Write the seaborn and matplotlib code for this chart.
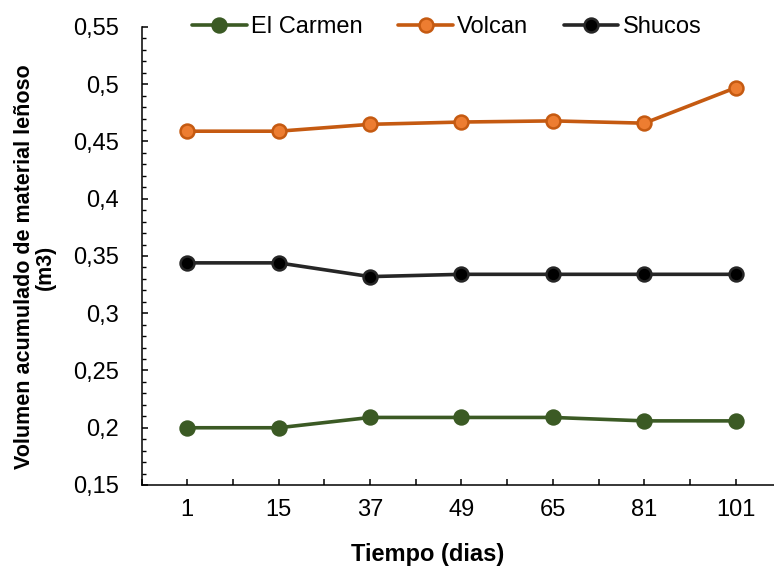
import matplotlib
matplotlib.use("Agg")
import matplotlib.pyplot as plt
from matplotlib.ticker import FuncFormatter, FixedLocator, MultipleLocator
import numpy as np
import pandas as pd
import seaborn as sns

dias = ["1", "15", "37", "49", "65", "81", "101"]
el_carmen = [0.200, 0.200, 0.209, 0.209, 0.209, 0.206, 0.206]
volcan = [0.459, 0.459, 0.465, 0.467, 0.468, 0.466, 0.497]
shucos = [0.344, 0.344, 0.332, 0.334, 0.334, 0.334, 0.334]

series_names = ["El Carmen", "Volcan", "Shucos"]
series_values = [el_carmen, volcan, shucos]
line_colors = ["#3B5A24", "#C55A11", "#262626"]
face_colors = ["#3B5A24", "#ED7D31", "#000000"]

sns.set_theme(style="white")
plt.rcParams["font.family"] = ["Liberation Sans", "DejaVu Sans"]

fig = plt.figure(figsize=(7.74, 5.70), dpi=100)
ax = fig.add_axes([141.5 / 774, 85 / 570, 640 / 774, 458 / 570])

pos = np.arange(len(dias))
for name, vals, lc, fc in zip(series_names, series_values, line_colors, face_colors):
    df = pd.DataFrame({"x": pos, "y": vals})
    sns.lineplot(data=df, x="x", y="y", ax=ax, color=lc, linewidth=2.6,
                 marker="o", markersize=10, markerfacecolor=fc,
                 markeredgecolor=lc, markeredgewidth=1.8, label=name)

ax.set_xlim(-0.5, len(dias) - 0.5)
ax.set_ylim(0.15, 0.55)
ax.set_xticks(pos)
ax.set_xticklabels(dias)
ax.xaxis.set_minor_locator(FixedLocator(np.arange(-0.5, len(dias), 1.0)))
ax.yaxis.set_major_locator(MultipleLocator(0.05))
ax.yaxis.set_minor_locator(MultipleLocator(0.01))

def fmt(v, p):
    s = f"{v:.2f}".rstrip("0")
    if s.endswith("."):
        s = s[:-1]
    return s.replace(".", ",")

ax.yaxis.set_major_formatter(FuncFormatter(fmt))

for s in ["top", "right"]:
    ax.spines[s].set_visible(False)
for s in ["left", "bottom"]:
    ax.spines[s].set_color("black")
    ax.spines[s].set_linewidth(1.1)

ax.tick_params(axis="both", which="major", direction="in", length=4.2, width=1.1,
               color="black", labelsize=17, labelcolor="black", left=True, bottom=True)
ax.tick_params(axis="y", which="major", pad=16)
ax.tick_params(axis="x", which="major", pad=10)
ax.tick_params(axis="y", which="minor", direction="in", length=3.2, width=1.0,
               color="black", left=True)
ax.tick_params(axis="x", which="minor", direction="in", length=4.2, width=1.1,
               color="black", bottom=True)

ax.set_xlabel("Tiempo (dias)", fontsize=17, fontweight="bold", color="black",
              va="center")
ax.xaxis.set_label_coords((427.5 - 141.5) / 640, -(555 - 485) / 458)
ax.set_ylabel("Volumen acumulado de material leñoso\n(m3)", fontsize=15.5,
              fontweight="bold", color="black", linespacing=1.0, va="center")
ax.yaxis.set_label_coords((35 - 141.5) / 640, (485 - 267) / 458)

leg = ax.legend(loc="center", bbox_to_anchor=(447 / 774, 1 - 27 / 570),
                bbox_transform=fig.transFigure, ncol=3, frameon=False,
                fontsize=17, handlelength=2.3, handletextpad=0.2,
                columnspacing=1.5, borderpad=0, borderaxespad=0)
for t in leg.get_texts():
    t.set_color("black")

fig.savefig("out.png", dpi=100)
